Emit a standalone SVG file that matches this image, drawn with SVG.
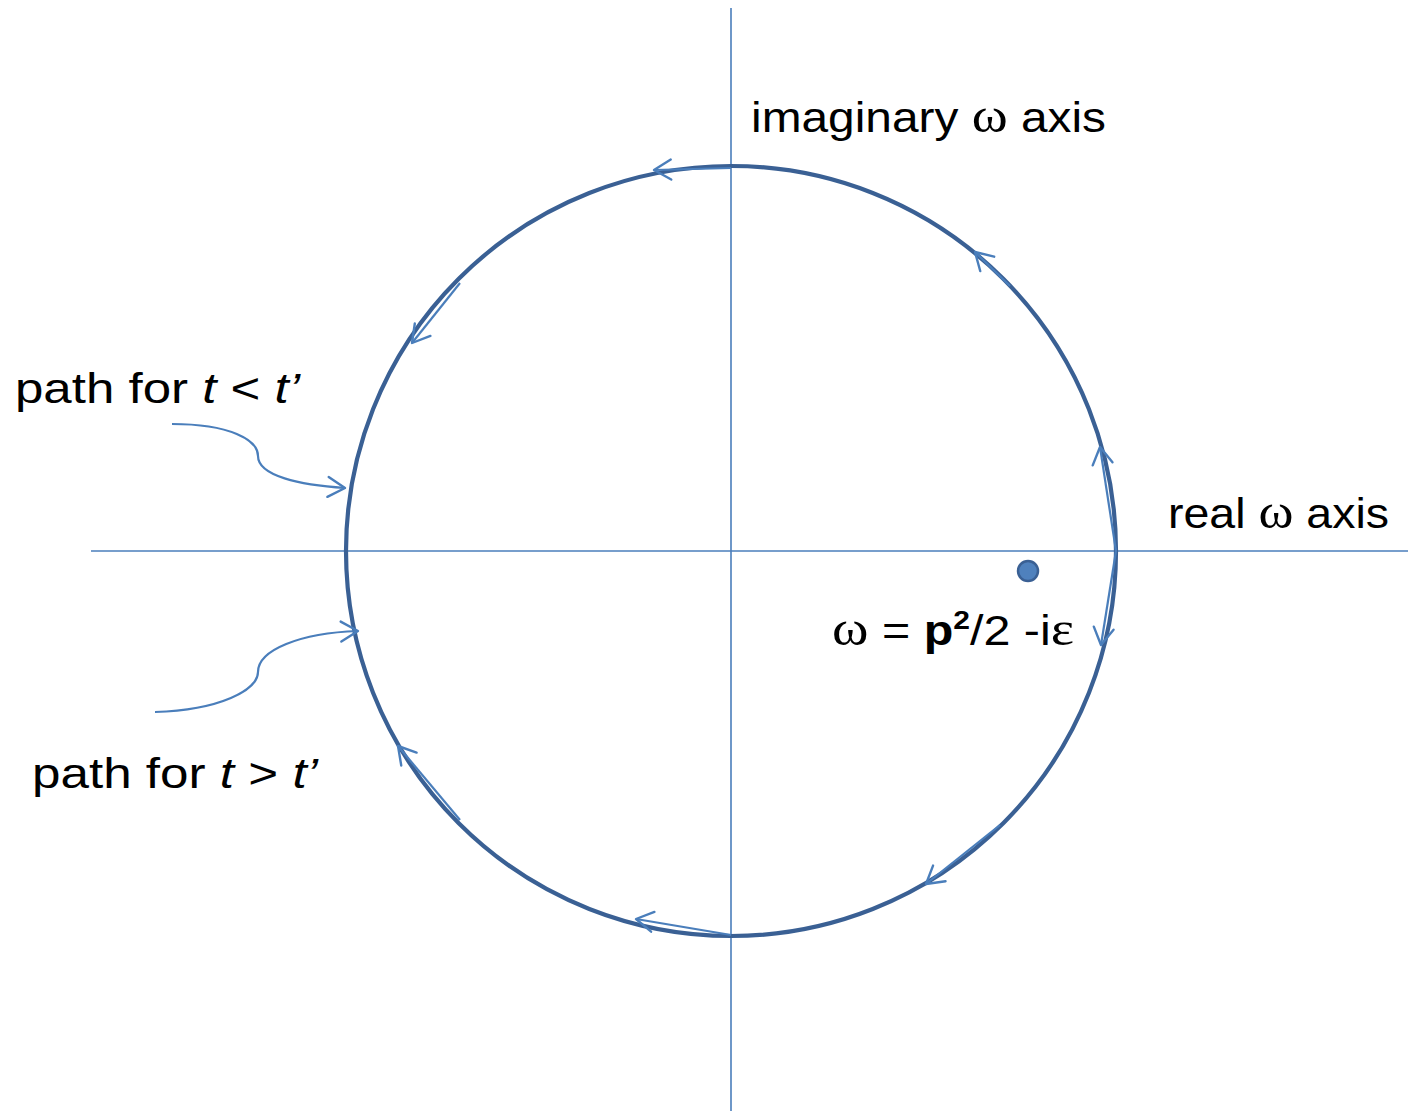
<svg xmlns="http://www.w3.org/2000/svg" width="1408" height="1111" viewBox="0 0 1408 1111">
<style>
.axis{stroke:#4A7EBB;stroke-width:1.6;fill:none}
.circ{stroke:#3A6094;stroke-width:4.2;fill:none}
.arr{stroke:#4A7EBB;stroke-width:2.2;fill:none;marker-end:url(#ah)}
.lbl{font-family:"Liberation Sans",Arial,sans-serif;font-size:42px;fill:#000}
.sym{font-family:"Liberation Serif","Times New Roman",serif;font-size:48px}
</style>
<defs>
<marker id="ah" markerUnits="userSpaceOnUse" markerWidth="40" markerHeight="40" viewBox="-20 -20 40 40" refX="0" refY="0" orient="auto">
<path d="M-17,-10 L0,0 L-17,10" fill="none" stroke="#4A7EBB" stroke-width="2.4" stroke-linecap="round" stroke-linejoin="round"/>
</marker>
</defs>
<g id="axes">
<line class="axis" x1="91" y1="551" x2="1408" y2="551"/>
<line class="axis" x1="731" y1="8" x2="731" y2="1111"/>
</g>
<g id="contour">
<circle class="circ" cx="731" cy="551" r="385"/>
</g>
<g id="connectors">
<path class="arr" d="M731,168 L654,170"/>
<path class="arr" d="M1010,286 L975,252"/>
<path class="arr" d="M460,283 L412,343"/>
<path class="arr" d="M1116,551 L1100,447"/>
<path class="arr" d="M1116,551 L1101,645"/>
<path class="arr" d="M1000,825 L926,884"/>
<path class="arr" d="M731,935 L636,919"/>
<path class="arr" d="M460,820 L398,746"/>
<path class="arr" d="M172,424 C230,424 258,440 258,456 C258,476 300,485 345,488"/>
<path class="arr" d="M155,712 C220,710 258,690 258,672 C258,650 300,633 358,631"/>
</g>
<g id="pole">
<circle cx="1028" cy="571" r="10" fill="#4F81BD" stroke="#3A6094" stroke-width="2.5"/>
</g>
<g id="labels">
<text class="lbl" x="751" y="132" textLength="355" lengthAdjust="spacingAndGlyphs">imaginary <tspan class="sym">ω</tspan> axis</text>
<text class="lbl" x="1168" y="528" textLength="221" lengthAdjust="spacingAndGlyphs">real <tspan class="sym">ω</tspan> axis</text>
<text class="lbl" x="15" y="403" textLength="285" lengthAdjust="spacingAndGlyphs">path for <tspan font-style="italic">t</tspan> &lt; <tspan font-style="italic">t’</tspan></text>
<text class="lbl" x="32" y="788" textLength="286" lengthAdjust="spacingAndGlyphs">path for <tspan font-style="italic">t</tspan> &gt; <tspan font-style="italic">t’</tspan></text>
<text class="lbl" x="832" y="645" textLength="242" lengthAdjust="spacingAndGlyphs"><tspan class="sym">ω</tspan> = <tspan font-weight="bold">p</tspan><tspan font-weight="bold" font-size="26" dy="-16">2</tspan><tspan dy="16">/2 -i</tspan><tspan class="sym">ε</tspan></text>
</g>
</svg>
